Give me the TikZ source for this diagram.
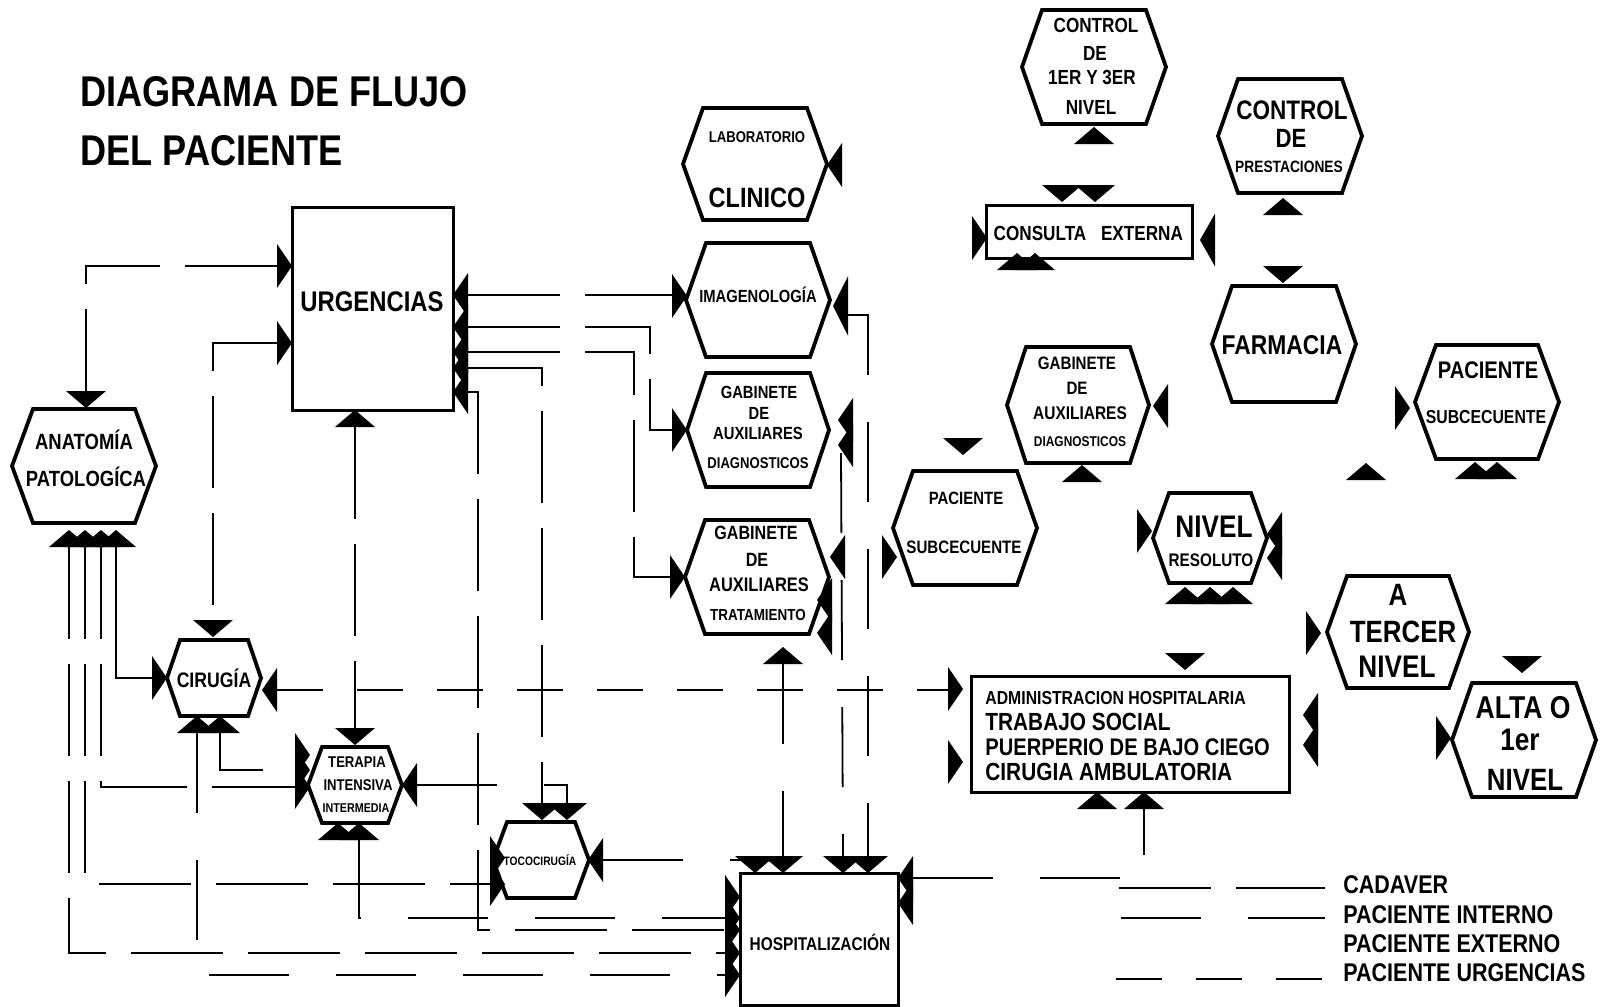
\documentclass[tikz,border=0pt]{standalone}
\usepackage{fontspec}
\setmainfont{Liberation Sans}[FakeStretch=0.84]

\tikzset{
  lbl/.style={font=\fontsize{#1pt}{#1pt}\selectfont\bfseries, inner sep=0pt},
  titulo/.style={font=\fontsize{21.5pt}{21.5pt}\selectfont\bfseries, inner sep=0pt, anchor=west},
  boxline/.style={draw, line width=1.5pt, fill=white, inner sep=0pt},
  hexbox/.style={inner sep=0pt, outer sep=0pt},
  hexline/.style={line width=1.9pt, fill=white, line join=miter},
  conn/.style={line width=0.9pt},
  cadaver/.style={conn, dash pattern=on 46pt off 12.5pt},
  interno/.style={conn, dash pattern=on 40pt off 23.5pt},
  externo/.style={conn},
  urgencias/.style={conn, dash pattern=on 23pt off 17pt},
  pics/tdn/.style={code={\fill (-20,-17) -- (20,-17) -- (0,0) -- cycle; \coordinate (-b) at (0,-17);}},
  pics/tup/.style={code={\fill (-20,17) -- (20,17) -- (0,0) -- cycle; \coordinate (-b) at (0,17);}},
  pics/trt/.style={code={\fill (-15,-22) -- (-15,22) -- (0,0) -- cycle; \coordinate (-b) at (-15,0);}},
  pics/tlt/.style={code={\fill (15,-22) -- (15,22) -- (0,0) -- cycle; \coordinate (-b) at (15,0);}},
}

% hexagono: nombre, x, y, media anchura, media altura, sesgo
\newcommand\hexnode[6]{%
  \node[hexbox, minimum width=#4pt, minimum height=#5pt] (#1) at (#2,#3) {};
  \draw[hexline] (#1.west) -- ([xshift=#6pt]#1.north west) -- ([xshift=-#6pt]#1.north east)
    -- (#1.east) -- ([xshift=-#6pt]#1.south east) -- ([xshift=#6pt]#1.south west) -- cycle;}

\begin{document}
\begin{tikzpicture}[x=0.5pt, y=-0.5pt]
  \fill[white] (0,0) rectangle (1602,1007);
  \useasboundingbox (0,0) rectangle (1602,1007);

  % titulo
  \node[titulo] (tit1) at (80,92) {DIAGRAMA DE FLUJO};
  \node[titulo] (tit2) at (80,151) {DEL PACIENTE};

  % rectangulos
  \node[boxline, minimum width=80.5pt, minimum height=101.5pt] (urg) at (372.5,308.5) {};
  \node[boxline, minimum width=103pt, minimum height=26.5pt] (cons) at (1089,231.5) {};
  \node[boxline, minimum width=159pt, minimum height=58pt] (adm) at (1130,734) {};
  \node[boxline, minimum width=79pt, minimum height=66pt] (hosp) at (819,939) {};

  % hexagonos
  \hexnode{anat}{84}{466}{72}{57}{10.5}
  \hexnode{cir}{214}{678}{47}{38}{6.5}
  \hexnode{ter}{355}{785}{47}{38}{7}
  \hexnode{toco}{541}{860}{48}{38}{7}
  \hexnode{lab}{755}{164}{72}{56}{10}
  \hexnode{img}{758}{300}{72}{57}{10}
  \hexnode{gd}{758}{430}{71}{57}{9.5}
  \hexnode{gt}{757}{577}{72}{57}{10}
  \hexnode{ctop}{1094}{67}{72}{57}{10}
  \hexnode{pres}{1290}{136}{72}{57}{10}
  \hexnode{farm}{1284}{344}{72}{58}{10}
  \hexnode{pacR}{1487}{402}{72}{57}{10.5}
  \hexnode{gabR}{1078}{405}{71}{58}{9.5}
  \hexnode{pacL}{965}{528}{72}{57}{10}
  \hexnode{niv}{1210}{538}{57}{45}{8}
  \hexnode{terc}{1398}{632}{71}{56}{10}
  \hexnode{alta}{1524}{740}{72}{57}{10}

  % textos
  \node[lbl=14.2] at (372,302) {URGENCIAS};
  \node[lbl=11] at (84,440) {ANATOMÍA};
  \node[lbl=11] at (86,477) {PATOLOGÍCA};
  \node[lbl=10.5] at (214,678) {CIRUGÍA};
  \node[lbl=7.8] at (357,762) {TERAPIA};
  \node[lbl=7.8] at (358,785) {INTENSIVA};
  \node[lbl=6.4] at (356,808) {INTERMEDIA};
  \node[lbl=6.1] at (540,860) {TOCOCIRUGÍA};
  \node[lbl=7.8] at (757,137) {LABORATORIO};
  \node[lbl=14] at (757,198) {CLINICO};
  \node[lbl=8.8] at (758,295) {IMAGENOLOGÍA};
  \node[lbl=8.8] at (759,392) {GABINETE};
  \node[lbl=8.8] at (759,413) {DE};
  \node[lbl=8.8] at (758,433) {AUXILIARES};
  \node[lbl=7.8] at (758,463) {DIAGNOSTICOS};
  \node[lbl=9.6] at (756,533) {GABINETE};
  \node[lbl=9.6] at (757,560) {DE};
  \node[lbl=9.8] at (759,585) {AUXILIARES};
  \node[lbl=8] at (758,615) {TRATAMIENTO};
  \node[lbl=9.2] at (820,942) {HOSPITALIZACIÓN};
  \node[lbl=10.2] at (1096,25) {CONTROL};
  \node[lbl=10.2] at (1095,53) {DE};
  \node[lbl=10.2] at (1092,77) {1ER Y 3ER};
  \node[lbl=10.2] at (1091,107) {NIVEL};
  \node[lbl=10.2] at (1040,233) {CONSULTA};
  \node[lbl=10.2] at (1142,233) {EXTERNA};
  \node[lbl=13.4] at (1292,110) {CONTROL};
  \node[lbl=13.2] at (1291,138) {DE};
  \node[lbl=8.2] at (1289,167) {PRESTACIONES};
  \node[lbl=13.6] at (1282,345) {FARMACIA};
  \node[lbl=12] at (1488,370) {PACIENTE};
  \node[lbl=9.4] at (1486,417) {SUBCECUENTE};
  \node[lbl=9] at (1077,363) {GABINETE};
  \node[lbl=9] at (1077,388) {DE};
  \node[lbl=9.2] at (1080,413) {AUXILIARES};
  \node[lbl=7.1] at (1080,442) {DIAGNOSTICOS};
  \node[lbl=8.9] at (966,498) {PACIENTE};
  \node[lbl=9] at (964,547) {SUBCECUENTE};
  \node[lbl=15.6] at (1214,527) {NIVEL};
  \node[lbl=9.1] at (1211,560) {RESOLUTO};
  \node[lbl=15.4] at (1398,595) {A};
  \node[lbl=15.4] at (1403,632) {TERCER};
  \node[lbl=15.6] at (1397,667) {NIVEL};
  \node[lbl=15.8] at (1523,708) {ALTA O};
  \node[lbl=15.6] at (1520,740) {1er};
  \node[lbl=15.4] at (1525,780) {NIVEL};
  \node[lbl=9.4, anchor=west] at (985,698) {ADMINISTRACION HOSPITALARIA};
  \node[lbl=12.4, anchor=west] at (985,722) {TRABAJO SOCIAL};
  \node[lbl=12, anchor=west] at (985,747) {PUERPERIO DE BAJO CIEGO};
  \node[lbl=12.4, anchor=west] at (985,772) {CIRUGIA AMBULATORIA};

  % puntas
  \pic (uL1) at (292,266) {trt};
  \pic (uL2) at (292,343) {trt};
  \foreach \y/\n in {295/1,327/2,352/3,368/4,392/5} \pic (uR\n) at (453,\y) {tlt};
  \pic (uB) at (355,410) {tup};
  \pic (aT) at (86,408) {tdn};
  \foreach \x/\n in {69/1,85/2,101/3,116/4} \pic (aB\n) at (\x,530) {tup};
  \pic (cT) at (213,637) {tdn};
  \pic (cL) at (167,678) {trt};
  \pic (cR) at (262,690) {tlt};
  \pic (cB1) at (197,716) {tup};
  \pic (cB2) at (220,716) {tup};
  \pic (tT) at (355,745) {tdn};
  \pic at (310,755) {trt};
  \pic (tL1) at (310,770) {trt};
  \pic (tL2) at (310,787) {trt};
  \pic (tR) at (402,785) {tlt};
  \pic (tB1) at (338,823) {tup};
  \pic (tB2) at (359,823) {tup};
  \pic (oT1) at (542,820) {tdn};
  \pic (oT2) at (567,820) {tdn};
  \pic (oL1) at (505,858) {trt};
  \pic (oL2) at (505,884) {trt};
  \pic (oR) at (588,860) {tlt};
  \foreach \x/\n in {755/1,783/2,843/3,868/4} \pic (hT\n) at (\x,873) {tdn};
  \pic at (740,897) {trt};
  \pic (hL1) at (740,918) {trt};
  \pic (hL2) at (740,930) {trt};
  \pic (hL3) at (740,953) {trt};
  \pic (hL4) at (740,975) {trt};
  \pic (hR) at (898,878) {tlt};
  \pic at (898,903) {tlt};
  \pic at (827,165) {tlt};
  \pic (iL) at (687,296) {trt};
  \pic[yscale=1.35] (iR) at (833,306) {tlt};
  \pic (dL) at (687,430) {trt};
  \pic (dR1) at (838,420) {tlt};
  \pic (dR2) at (838,445) {tlt};
  \pic (gL) at (685,577) {trt};
  \pic (gR1) at (830,557) {tlt};
  \pic (gR2) at (817,600) {tlt};
  \pic (gR3) at (817,633) {tlt};
  \pic (gB) at (783,647) {tup};
  \pic (ctB) at (1094,127) {tup};
  \pic (coT1) at (1062,202) {tdn};
  \pic (coT2) at (1095,202) {tdn};
  \pic (coL) at (987,238) {trt};
  \pic[yscale=1.2] (coR) at (1200,240) {tlt};
  \pic (coB1) at (1017,253) {tup};
  \pic (coB2) at (1035,253) {tup};
  \pic (prB) at (1283,198) {tup};
  \pic (faT) at (1283,283) {tdn};
  \pic (psL) at (1410,408) {trt};
  \pic (psB1) at (1475,462) {tup};
  \pic (psB2) at (1497,462) {tup};
  \pic (sueltoT) at (1366,463) {tup};
  \pic (gaR) at (1153,406) {tlt};
  \pic (gaB) at (1082,465) {tup};
  \pic (plT) at (963,455) {tdn};
  \pic (plL) at (897,557) {trt};
  \pic (nvL) at (1152,531) {trt};
  \pic (nvR1) at (1267,534) {tlt};
  \pic (nvR2) at (1267,558) {tlt};
  \foreach \x/\n in {1185/1,1210/2,1233/3} \pic (nvB\n) at (\x,587) {tup};
  \pic (tcL) at (1321,633) {trt};
  \pic (mT) at (1185,670) {tdn};
  \pic (mL1) at (963,689) {trt};
  \pic (mL2) at (963,762) {trt};
  \pic (mR1) at (1303,715) {tlt};
  \pic (mR2) at (1303,745) {tlt};
  \pic (mB1) at (1097,792) {tup};
  \pic (mB2) at (1144,792) {tup};
  \pic (alT) at (1522,673) {tdn};
  \pic (alL) at (1451,738) {trt};

  % conexiones
  \draw[cadaver] (uL1-b) -| (aT-b);
  \draw[cadaver] (uL2-b) -| (cT-b);
  \draw[cadaver] (uR1-b) -- (uR1-b -| iL-b);
  \draw[cadaver] (uR2-b) -- ++(182,0) |- (dL-b);
  \draw[cadaver] (uR3-b) -- ++(166,0) |- (gL-b);
  \draw[cadaver] (uR4-b) -| (oT1-b);
  \draw[cadaver] (uR5-b) -- ++(10,0) |- (hL2-b);
  \draw[cadaver] (uB-b) -- (tT-b);
  \draw[cadaver] (aB1-b) |- (hL3-b);
  \draw[cadaver] (aB2-b) |- (oL2-b);
  \draw[cadaver] (aB3-b) |- (tL2-b);
  \draw[externo] (aB4-b) |- (cL-b);
  \draw[urgencias] (cR-b) -- (cR-b -| mL1-b);
  \draw[interno] (cB1-b) |- (hL4-b);
  \draw[interno] (cB2-b) |- (tL1-b);
  \draw[interno] (tR-b) -| (oT2-b);
  \draw[interno] (tB2-b) |- (hL1-b);
  \draw[interno] (oR-b) -- (oR-b -| hT1-b);
  \draw[interno] (iR-b) ++(0,9) -| (hT4-b);
  \draw[interno] (dR2-b) ++(-12,8) -- (hT3-b);
  \draw[interno] (gB-b) -- (hT2-b);
  \draw[interno] (hR-b) -| (mB2-b);

  % leyenda
  \node[lbl=12.8, anchor=west] (lgCad) at (1343,885) {CADAVER};
  \node[lbl=12.8, anchor=west] (lgInt) at (1343,915) {PACIENTE INTERNO};
  \node[lbl=12.8, anchor=west] (lgExt) at (1343,944) {PACIENTE EXTERNO};
  \node[lbl=12.8, anchor=west] (lgUrg) at (1343,973) {PACIENTE URGENCIAS};
  \draw[cadaver] ([xshift=-112pt, yshift=-1.5pt]lgCad.west) -- ++(206,0);
  \draw[interno] ([xshift=-111pt, yshift=-1.5pt]lgInt.west) -- ++(204,0);
  \draw[urgencias] ([xshift=-113.5pt, yshift=-3pt]lgUrg.west) -- ++(206,0);
\end{tikzpicture}
\end{document}
